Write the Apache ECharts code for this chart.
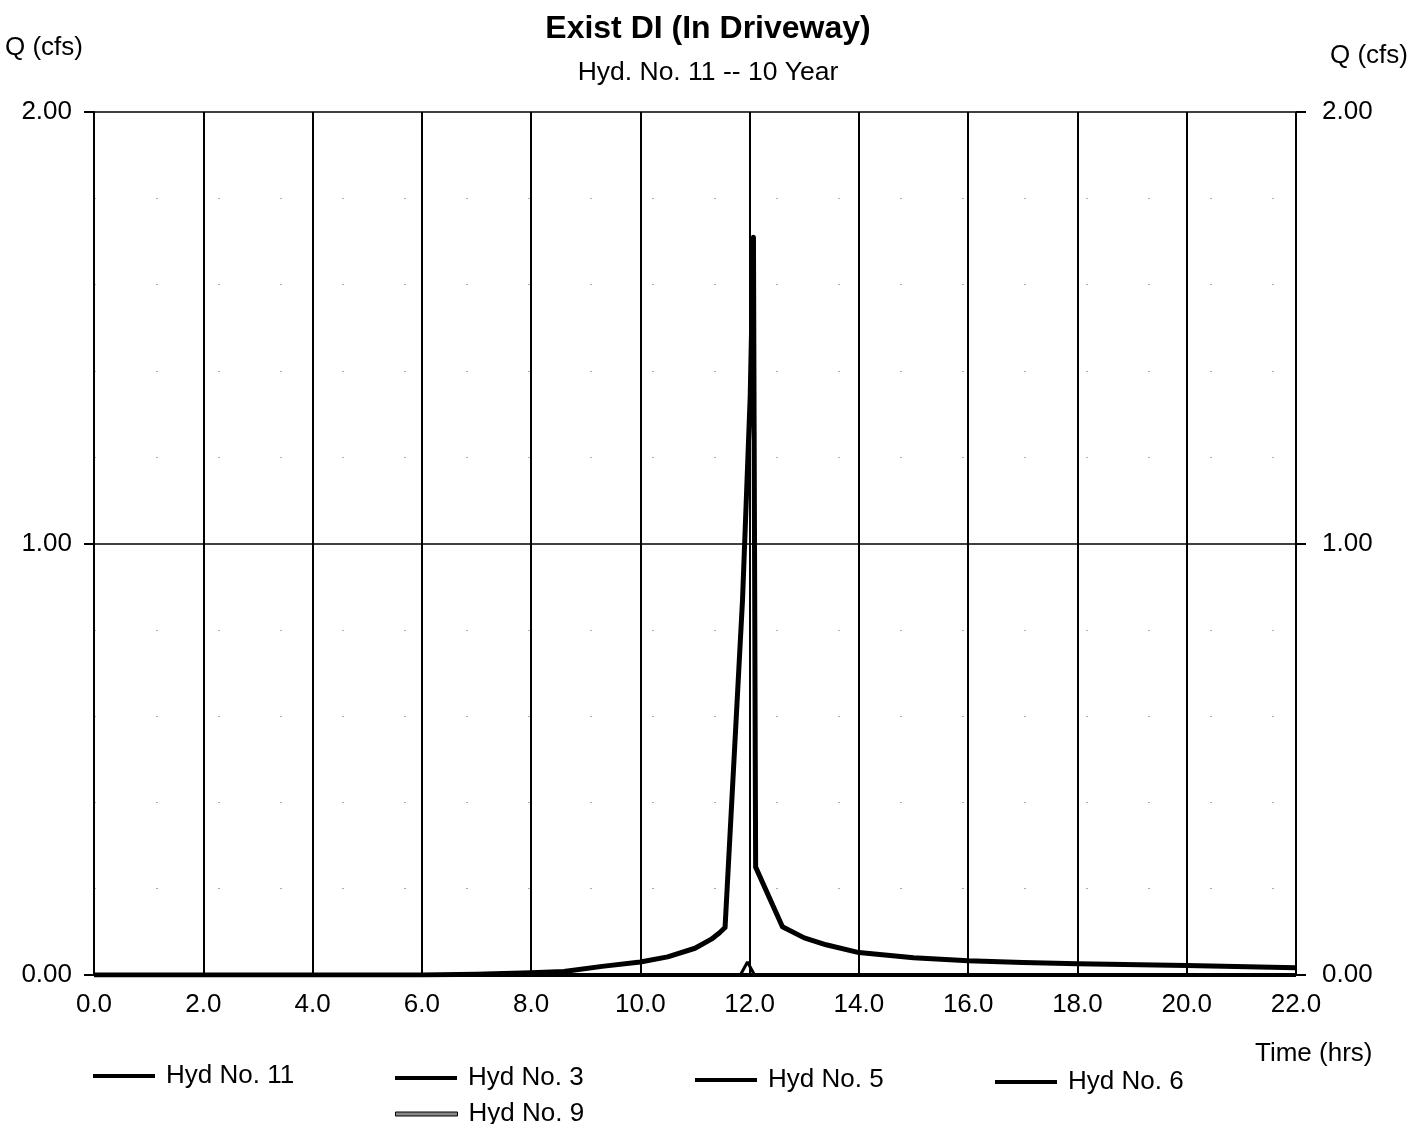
<!DOCTYPE html>
<html>
<head>
<meta charset="utf-8">
<script src="https://cdn.jsdelivr.net/npm/echarts@6/dist/echarts.min.js"></script>
<style>
html,body{margin:0;padding:0;background:#fff;}
#chart{width:1425px;height:1124px;}
</style>
</head>
<body>
<div id="chart"></div>
<script>
// ---- data ----
const xTicks = [0, 2, 4, 6, 8, 10, 12, 14, 16, 18, 20, 22];
const yTicks = [0, 1, 2];

const hyd11Time = [0, 1, 2, 3, 4, 5, 6, 7, 8, 8.6, 9.3, 10.0, 10.5, 11.0, 11.3, 11.45, 11.55, 11.87, 12.01, 12.07, 12.11, 12.6, 13.0, 13.4, 14.0, 15.0, 16.0, 17.0, 18.0, 20.0, 22.0];
const hyd11Q    = [0, 0, 0, 0, 0, 0, 0, 0.002, 0.005, 0.008, 0.02, 0.03, 0.042, 0.062, 0.083, 0.098, 0.11, 0.87, 1.34, 1.71, 0.25, 0.112, 0.086, 0.07, 0.052, 0.04, 0.033, 0.029, 0.026, 0.022, 0.017];

const hyd3Time = [0, 11.83, 11.96, 12.09, 22];
const hyd3Q    = [0, 0, 0.03, 0, 0];

const hyd5Time = [0, 22];
const hyd5Q    = [0, 0];

const hyd6Time = [0, 22];
const hyd6Q    = [0, 0];

const hyd9Time = [0, 22];
const hyd9Q    = [0, 0];

const seriesNames = ['Hyd No. 11', 'Hyd No. 3', 'Hyd No. 5', 'Hyd No. 6', 'Hyd No. 9'];

// ---- build ----
function pairs(t, q) { return t.map((v, i) => [v, q[i]]); }
const FONT = 'Liberation Sans';
const FS = 26;

const chart = echarts.init(document.getElementById('chart'), null, {renderer: 'canvas'});

function legendAt(name, left, top, extra) {
  return Object.assign({
    data: [name],
    left: left, top: top,
    icon: 'rect',
    itemWidth: 62, itemHeight: 4, itemGap: 0,
    textStyle: {fontFamily: FONT, fontSize: FS, color: '#000', padding: [0, 0, 0, 6]},
    selectedMode: false
  }, extra || {});
}

const option = {
  backgroundColor: '#fff',
  animation: false,
  title: {
    text: 'Exist DI (In Driveway)',
    subtext: 'Hyd. No. 11 -- 10 Year',
    left: 703, textAlign: 'center', top: 8, itemGap: 14,
    textStyle: {fontFamily: FONT, fontSize: 32, fontWeight: 'bold', color: '#000'},
    subtextStyle: {fontFamily: FONT, fontSize: 26.5, color: '#000'}
  },
  grid: {left: 94, right: 129, top: 112, bottom: 149, containLabel: false},
  legend: [
    legendAt(seriesNames[0], 88, 1058),
    legendAt(seriesNames[1], 390, 1060),
    legendAt(seriesNames[2], 690, 1062),
    legendAt(seriesNames[3], 990, 1064),
    legendAt(seriesNames[4], 390, 1096, {itemStyle: {color: '#888', borderColor: '#000', borderWidth: 1}})
  ],
  xAxis: {
    type: 'value', min: xTicks[0], max: xTicks[xTicks.length - 1], interval: 2,
    axisLine: {show: true, lineStyle: {color: '#000', width: 2}},
    axisTick: {show: false},
    axisLabel: {fontFamily: FONT, fontSize: FS, color: '#000', margin: 17,
      formatter: v => v.toFixed(1)},
    splitLine: {show: true, lineStyle: {color: '#000', width: 2}}
  },
  yAxis: [
    {
      type: 'value', min: yTicks[0], max: yTicks[yTicks.length - 1], interval: 1,
      position: 'left',
      axisLine: {show: true, lineStyle: {color: '#000', width: 2}},
      axisTick: {show: true, length: 10, lineStyle: {color: '#000', width: 2}},
      axisLabel: {fontFamily: FONT, fontSize: FS, color: '#000', margin: 22,
        formatter: v => v.toFixed(2)},
      splitLine: {show: true, lineStyle: {color: '#000', width: 1.5}},
      minorTick: {show: false, splitNumber: 5},
      minorSplitLine: {show: true, lineStyle: {color: '#aaa', width: 1, type: [2, 60]}}
    },
    {
      type: 'value', min: yTicks[0], max: yTicks[yTicks.length - 1], interval: 1,
      position: 'right',
      axisLine: {show: false},
      axisTick: {show: true, length: 10, lineStyle: {color: '#000', width: 2}},
      axisLabel: {fontFamily: FONT, fontSize: FS, color: '#000', margin: 26,
        formatter: v => v.toFixed(2)},
      splitLine: {show: false}
    }
  ],
  graphic: [
    {type: 'text', left: 5, top: 35, style: {text: 'Q (cfs)', font: FS + 'px "Liberation Sans"', fill: '#000'}},
    {type: 'text', left: 1330, top: 43, style: {text: 'Q (cfs)', font: FS + 'px "Liberation Sans"', fill: '#000'}},
    {type: 'text', left: 1255, top: 1041, style: {text: 'Time (hrs)', font: FS + 'px "Liberation Sans"', fill: '#000'}}
  ],
  series: [
    {name: seriesNames[4], type: 'line', data: pairs(hyd9Time, hyd9Q), showSymbol: false,
      itemStyle: {color: '#888'}, lineStyle: {color: '#000', width: 3, type: [6, 3]}, z: 2},
    {name: seriesNames[3], type: 'line', data: pairs(hyd6Time, hyd6Q), showSymbol: false,
      itemStyle: {color: '#000'}, lineStyle: {color: '#000', width: 4}, z: 3},
    {name: seriesNames[2], type: 'line', data: pairs(hyd5Time, hyd5Q), showSymbol: false,
      itemStyle: {color: '#000'}, lineStyle: {color: '#000', width: 4}, z: 4},
    {name: seriesNames[1], type: 'line', data: pairs(hyd3Time, hyd3Q), showSymbol: false,
      itemStyle: {color: '#000'}, lineStyle: {color: '#000', width: 3}, z: 5},
    {name: seriesNames[0], type: 'line', data: pairs(hyd11Time, hyd11Q), showSymbol: false,
      itemStyle: {color: '#000'}, lineStyle: {color: '#000', width: 5, join: 'round'}, z: 6}
  ]
};
chart.setOption(option);
</script>
</body>
</html>
